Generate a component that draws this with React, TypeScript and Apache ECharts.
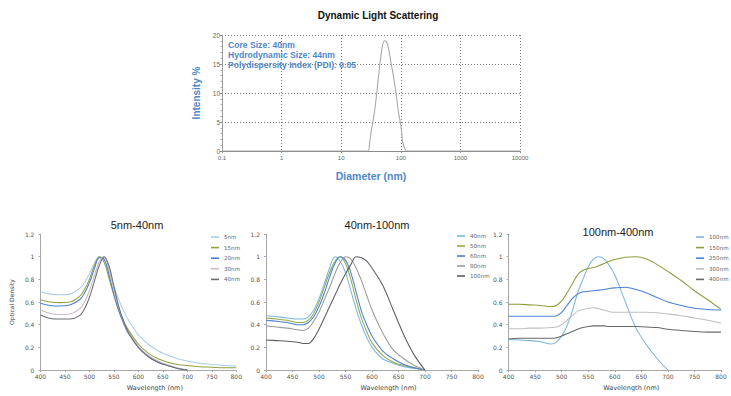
import React, { useEffect, useRef } from "react";
import * as echarts from "echarts";

// ---------- Dynamic Light Scattering ----------
const dlsTitle = "Dynamic Light Scattering";
const dlsXTicks = [0.1, 1, 10, 100, 1000, 10000];
const dlsDiameter = [0.1, 28, 30, 32, 34, 37, 40, 44, 49, 53, 57, 62, 69, 75, 83, 92, 100, 108, 118, 125, 10000];
const dlsIntensity = [0, 0, 1.5, 3.5, 5, 7.5, 10.5, 14.5, 18, 19, 18.9, 17.8, 15, 13, 10, 6.5, 4.5, 1.5, 0.3, 0, 0];
const dlsNotes = ["Core Size: 40nm", "Hydrodynamic Size: 44nm", "Polydispersity Index (PDI): 0.05"];

// ---------- Panel 1: 5nm-40nm ----------
const p1Title = "5nm-40nm";
const p1Wavelength = [400, 420, 440, 460, 480, 490, 500, 510, 520, 530, 540, 550, 560, 570, 580, 600, 620, 640, 660, 680, 700, 725, 750, 775, 800];
const p1Names = ["5nm", "15nm", "20nm", "30nm", "40nm"];
const p1_5nm = [0.69, 0.67, 0.665, 0.67, 0.72, 0.77, 0.85, 0.94, 1.0, 0.97, 0.87, 0.74, 0.62, 0.52, 0.44, 0.31, 0.23, 0.17, 0.13, 0.1, 0.08, 0.06, 0.05, 0.04, 0.035];
const p1_15nm = [0.62, 0.6, 0.595, 0.6, 0.65, 0.71, 0.8, 0.92, 1.0, 0.95, 0.81, 0.66, 0.53, 0.43, 0.35, 0.23, 0.15, 0.1, 0.07, 0.05, 0.04, 0.03, 0.025, 0.02, 0.02];
const p1_20nm = [0.59, 0.57, 0.565, 0.575, 0.62, 0.68, 0.77, 0.89, 0.99, 0.98, 0.84, 0.67, 0.52, 0.41, 0.32, 0.2, 0.12, 0.07, 0.04, 0.015, 0, null, null, null, null];
const p1_30nm = [0.53, 0.5, 0.49, 0.495, 0.54, 0.6, 0.7, 0.83, 0.95, 1.0, 0.89, 0.71, 0.55, 0.43, 0.33, 0.21, 0.13, 0.08, 0.045, 0.02, 0, null, null, null, null];
const p1_40nm = [0.485, 0.455, 0.45, 0.45, 0.48, 0.54, 0.64, 0.78, 0.92, 1.0, 0.92, 0.74, 0.56, 0.43, 0.33, 0.2, 0.12, 0.07, 0.04, 0.015, 0, null, null, null, null];
const p1Colors = ["#a9cde9", "#8da23f", "#4f7fcf", "#cdb9c1", "#6a6e75"];

// ---------- Panel 2: 40nm-100nm ----------
const p2Title = "40nm-100nm";
const p2Wavelength = [400, 420, 440, 460, 470, 480, 490, 500, 510, 520, 530, 540, 550, 560, 570, 580, 590, 600, 620, 640, 660, 680, 700];
const p2Names = ["40nm", "50nm", "60nm", "80nm", "100nm"];
const p2_40nm = [0.48, 0.47, 0.46, 0.45, 0.45, 0.47, 0.53, 0.63, 0.76, 0.9, 1.0, 0.96, 0.86, 0.7, 0.54, 0.4, 0.29, 0.2, 0.1, 0.06, 0.03, 0.015, 0];
const p2_50nm = [0.46, 0.45, 0.44, 0.42, 0.42, 0.44, 0.5, 0.6, 0.73, 0.86, 0.96, 1.0, 0.94, 0.8, 0.62, 0.46, 0.34, 0.24, 0.13, 0.07, 0.04, 0.02, 0];
const p2_60nm = [0.44, 0.43, 0.42, 0.4, 0.4, 0.42, 0.47, 0.56, 0.68, 0.82, 0.94, 1.0, 0.97, 0.86, 0.69, 0.52, 0.4, 0.3, 0.17, 0.1, 0.05, 0.02, 0];
const p2_80nm = [0.39, 0.38, 0.37, 0.355, 0.35, 0.37, 0.43, 0.51, 0.62, 0.73, 0.85, 0.95, 1.0, 0.98, 0.9, 0.79, 0.66, 0.53, 0.33, 0.18, 0.1, 0.04, 0];
const p2_100nm = [0.265, 0.26, 0.255, 0.245, 0.235, 0.235, 0.28, 0.36, 0.46, 0.56, 0.66, 0.76, 0.85, 0.93, 1.0, 0.99, 0.96, 0.9, 0.75, 0.53, 0.31, 0.13, 0];
const p2Colors = ["#76b6e3", "#93a846", "#4b7fd1", "#9b9b9b", "#5a5d63"];

// ---------- Panel 3: 100nm-400nm ----------
const p3Title = "100nm-400nm";
const p3Wavelength = [400, 420, 440, 460, 480, 490, 500, 510, 520, 530, 540, 550, 560, 570, 580, 590, 600, 620, 640, 660, 680, 700, 725, 750, 775, 800];
const p3Names = ["100nm", "150nm", "250nm", "300nm", "400nm"];
const p3_100nm = [0.27, 0.265, 0.26, 0.25, 0.23, 0.245, 0.3, 0.39, 0.52, 0.68, 0.8, 0.91, 0.98, 1.0, 0.98, 0.92, 0.84, 0.6, 0.37, 0.22, 0.1, 0, null, null, null, null];
const p3_150nm = [0.58, 0.58, 0.575, 0.57, 0.56, 0.57, 0.61, 0.68, 0.76, 0.84, 0.88, 0.895, 0.905, 0.92, 0.94, 0.96, 0.975, 0.995, 1.0, 0.98, 0.93, 0.87, 0.79, 0.7, 0.62, 0.535];
const p3_250nm = [0.475, 0.475, 0.475, 0.475, 0.475, 0.48, 0.51, 0.57, 0.63, 0.67, 0.69, 0.695, 0.7, 0.705, 0.71, 0.72, 0.725, 0.73, 0.71, 0.68, 0.64, 0.6, 0.57, 0.545, 0.535, 0.53];
const p3_300nm = [0.365, 0.365, 0.37, 0.37, 0.375, 0.38, 0.4, 0.44, 0.48, 0.52, 0.535, 0.545, 0.55, 0.54, 0.53, 0.515, 0.51, 0.51, 0.51, 0.51, 0.505, 0.495, 0.48, 0.46, 0.44, 0.415];
const p3_400nm = [0.275, 0.28, 0.28, 0.28, 0.28, 0.285, 0.3, 0.32, 0.34, 0.36, 0.375, 0.385, 0.39, 0.39, 0.39, 0.385, 0.385, 0.385, 0.385, 0.38, 0.375, 0.36, 0.35, 0.34, 0.335, 0.335];
const p3Colors = ["#7db5df", "#8c9d3e", "#4a7fd6", "#bfbfbf", "#66686d"];

const xName = "Wavelength (nm)";
const yName = "Optical Density";

type PanelCfg = {
  title: string;
  titleX: number;
  titleY: number;
  wl: number[];
  names: string[];
  values: (number | null)[][];
  colors: string[];
  gridLeft: number;
  gridWidth: number;
  legendLeft: number;
  legendTop: number;
  legendGap: number;
  showYName: boolean;
};

function spectrumOption(c: PanelCfg): any {
  const axisColor = "#a8a8a8";
  const labelStyle = { fontSize: 6, color: "#555", fontFamily: "DejaVu Sans" };
  return {
    animation: false,
    title: {
      text: c.title,
      left: c.titleX,
      top: c.titleY,
      textAlign: "center",
      textStyle: { fontFamily: "Liberation Sans", fontSize: 11, fontWeight: "normal", color: "#222" },
    },
    grid: { left: c.gridLeft, top: 34, width: c.gridWidth, height: 139 },
    legend: {
      orient: "vertical",
      left: c.legendLeft,
      top: c.legendTop,
      padding: 0,
      itemWidth: 8,
      itemHeight: 1.6,
      itemGap: c.legendGap,
      icon: "rect",
      textStyle: { fontSize: 5.6, color: "#666", fontFamily: "DejaVu Sans", lineHeight: 8 },
      data: c.names,
    },
    xAxis: {
      type: "value",
      min: 400,
      max: 800,
      interval: 50,
      name: xName,
      nameLocation: "middle",
      nameGap: 11,
      nameTextStyle: { fontSize: 6.5, color: "#444", fontFamily: "DejaVu Sans", padding: [0, 0, 0, 33] },
      axisLine: { lineStyle: { color: axisColor, width: 1 } },
      axisTick: { show: true, length: 2, lineStyle: { color: axisColor } },
      axisLabel: { ...labelStyle, margin: 3 },
      splitLine: { show: false },
    },
    yAxis: {
      type: "value",
      min: 0,
      max: 1.2,
      interval: 0.2,
      name: c.showYName ? yName : "",
      nameLocation: "middle",
      nameGap: 17,
      nameRotate: 90,
      nameTextStyle: { fontSize: 6, color: "#444", fontFamily: "DejaVu Sans" },
      axisLine: { show: true, lineStyle: { color: axisColor, width: 1 } },
      axisTick: { show: true, length: 2, lineStyle: { color: axisColor } },
      axisLabel: { ...labelStyle, margin: 6, formatter: (v: number) => String(Math.round(v * 10) / 10) },
      splitLine: { show: false },
    },
    series: c.names.map((n, i) => ({
      type: "line",
      name: n,
      data: c.wl
        .map((x, j) => [x, c.values[i][j]])
        .filter((p) => p[1] !== null && p[1] !== undefined),
      smooth: 0.35,
      symbol: "none",
      showSymbol: false,
      lineStyle: { width: 1.05, color: c.colors[i] },
      itemStyle: { color: c.colors[i] },
      z: 2 + i,
    })),
  };
}

function dlsOption(): any {
  const blue = "#4f88c9";
  const dotted = { type: [1, 2], color: "#7a7a7a", width: 1 };
  return {
    animation: false,
    title: {
      text: dlsTitle,
      left: 223,
      top: 5,
      textAlign: "center",
      textStyle: { fontFamily: "Liberation Sans", fontSize: 10, fontWeight: "bold", color: "#111" },
    },
    grid: { left: 72, top: 35, width: 298, height: 116 },
    xAxis: {
      type: "log",
      logBase: 10,
      min: dlsXTicks[0],
      max: dlsXTicks[dlsXTicks.length - 1],
      name: "Diameter (nm)",
      nameLocation: "middle",
      nameGap: 19,
      nameTextStyle: { color: blue, fontWeight: "bold", fontSize: 10.5, fontFamily: "Liberation Sans" },
      axisLine: { lineStyle: { color: "#8a8a8a" } },
      axisTick: { show: true, length: 2, lineStyle: { color: "#8a8a8a" } },
      axisLabel: {
        fontSize: 6,
        color: "#666",
        margin: 4,
        fontFamily: "Liberation Sans",
        formatter: (v: number) => String(parseFloat(v.toPrecision(6))),
      },
      splitLine: { show: true, lineStyle: dotted },
    },
    yAxis: {
      type: "value",
      min: 0,
      max: 20,
      interval: 5,
      name: "Intensity %",
      nameLocation: "middle",
      nameGap: 13,
      nameRotate: 90,
      nameTextStyle: { color: blue, fontWeight: "bold", fontSize: 10, fontFamily: "Liberation Sans" },
      axisLine: { show: true, lineStyle: { color: "#9a9a9a" } },
      axisTick: { show: true, length: 2, lineStyle: { color: "#8a8a8a" } },
      minorTick: { show: true, splitNumber: 5, length: 1.5, lineStyle: { color: "#aaa" } },
      axisLabel: { fontSize: 6.5, color: "#666", margin: 2, fontFamily: "Liberation Sans" },
      splitLine: { show: true, lineStyle: dotted },
    },
    graphic: dlsNotes.map((t, i) => ({
      type: "text",
      left: 78,
      top: 40 + i * 10,
      style: { text: t, fill: blue, font: "bold 8.6px 'Liberation Sans'" },
    })),
    series: [
      {
        type: "line",
        data: dlsDiameter.map((d, i) => [d, dlsIntensity[i]]),
        smooth: 0.3,
        symbol: "none",
        lineStyle: { color: "#a9a9a9", width: 1.1 },
      },
    ],
  };
}

function Chart({ option, style }: { option: any; style: React.CSSProperties }) {
  const ref = useRef<HTMLDivElement>(null);
  useEffect(() => {
    if (!ref.current) return;
    const chart = echarts.init(ref.current, undefined, { renderer: "svg" });
    chart.setOption(option);
    return () => chart.dispose();
  }, [option]);
  return <div ref={ref} style={{ position: "absolute", ...style }} />;
}

const topOpt = dlsOption();
const p1Opt = spectrumOption({
  title: p1Title,
  titleX: 132,
  titleY: 14,
  wl: p1Wavelength,
  names: p1Names,
  values: [p1_5nm, p1_15nm, p1_20nm, p1_30nm, p1_40nm],
  colors: p1Colors,
  gridLeft: 29,
  gridWidth: 214,
  legendLeft: 211,
  legendTop: 33,
  legendGap: 2.6,
  showYName: true,
});
const p2Opt = spectrumOption({
  title: p2Title,
  titleX: 127,
  titleY: 14,
  wl: p2Wavelength,
  names: p2Names,
  values: [p2_40nm, p2_50nm, p2_60nm, p2_80nm, p2_100nm],
  colors: p2Colors,
  gridLeft: 21,
  gridWidth: 212,
  legendLeft: 212,
  legendTop: 32,
  legendGap: 2,
  showYName: false,
});
const p3Opt = spectrumOption({
  title: p3Title,
  titleX: 123,
  titleY: 21,
  wl: p3Wavelength,
  names: p3Names,
  values: [p3_100nm, p3_150nm, p3_250nm, p3_300nm, p3_400nm],
  colors: p3Colors,
  gridLeft: 17,
  gridWidth: 214,
  legendLeft: 206,
  legendTop: 33,
  legendGap: 2.6,
  showYName: false,
});

export default function App() {
  useEffect(() => {
    document.body.style.margin = "0";
  }, []);
  return (
    <div style={{ position: "relative", width: 731, height: 396, background: "#fff", overflow: "hidden" }}>
      <Chart option={topOpt} style={{ left: 150, top: 0, width: 431, height: 200 }} />
      <Chart option={p1Opt} style={{ left: 0, top: 200, width: 245, height: 196 }} />
      <Chart option={p2Opt} style={{ left: 245, top: 200, width: 262, height: 196 }} />
      <Chart option={p3Opt} style={{ left: 490, top: 200, width: 241, height: 196 }} />
    </div>
  );
}
